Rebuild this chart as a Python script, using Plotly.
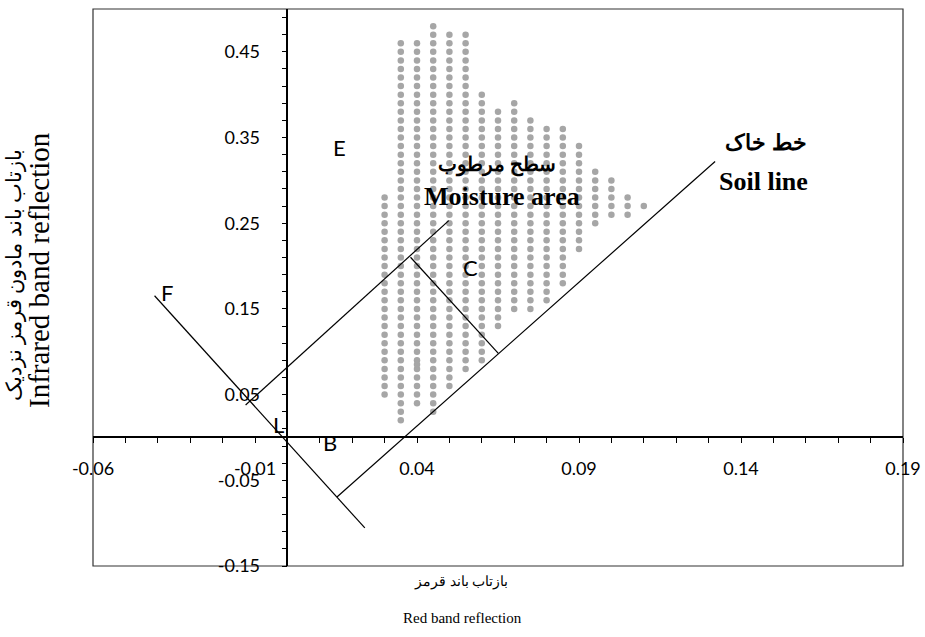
import plotly.graph_objects as go

# ---------------- data ----------------
# grid of sampled pixels: column x positions, top and bottom y of each column (step 0.01)
col_x = [0.030, 0.035, 0.040, 0.045, 0.050, 0.055, 0.060, 0.065, 0.070,
         0.075, 0.080, 0.085, 0.090, 0.095, 0.100, 0.105, 0.110]
col_top = [0.28, 0.46, 0.46, 0.48, 0.47, 0.47, 0.40, 0.38, 0.39,
           0.37, 0.36, 0.36, 0.34, 0.31, 0.30, 0.28, 0.27]
col_bottom = [0.05, 0.02, 0.04, 0.03, 0.06, 0.08, 0.09, 0.13, 0.15,
              0.15, 0.16, 0.18, 0.22, 0.25, 0.26, 0.26, 0.27]
extra_x = [0.040]
extra_y = [0.085]

# lines (x pairs, y pairs)
line_F_x = [-0.041, 0.0239]
line_F_y = [0.1654, -0.1056]
line_soil_x = [0.0153, 0.132]
line_soil_y = [-0.0694, 0.322]
line_wet_x = [-0.0129, 0.0498]
line_wet_y = [0.0379, 0.253]
line_C_x = [0.038, 0.0651]
line_C_y = [0.2103, 0.0981]

# letters
letter_text = ["E", "C", "F", "L", "B"]
letter_x = [0.0162, 0.0566, -0.0373, -0.0027, 0.0131]
letter_y = [0.338, 0.198, 0.1686, 0.0155, -0.0055]

# ticks
x_tick_vals = [-0.06, -0.01, 0.04, 0.09, 0.14, 0.19]
x_tick_text = ["-0.06", "-0.01", "0.04", "0.09", "0.14", "0.19"]
y_tick_vals = [-0.15, -0.05, 0.05, 0.15, 0.25, 0.35, 0.45]
y_tick_text = ["-0.15", "-0.05", "0.05", "0.15", "0.25", "0.35", "0.45"]

x_range = [-0.06, 0.19]
y_range = [-0.15, 0.50]

# ---------------- build ----------------
px, py = [], []
for x, top, bot in zip(col_x, col_top, col_bottom):
    n = int(round((top - bot) / 0.01))
    for i in range(n + 1):
        px.append(x)
        py.append(round(bot + i * 0.01, 3))
px += extra_x
py += extra_y

fig = go.Figure()
fig.add_trace(go.Scatter(x=px, y=py, mode="markers",
                         marker=dict(color="#a6a6a6", size=6.5, line=dict(width=0)),
                         hoverinfo="skip", showlegend=False))
for lx, ly in [(line_F_x, line_F_y), (line_soil_x, line_soil_y),
               (line_wet_x, line_wet_y), (line_C_x, line_C_y)]:
    fig.add_trace(go.Scatter(x=lx, y=ly, mode="lines",
                             line=dict(color="black", width=1.2),
                             hoverinfo="skip", showlegend=False))

annos = []
for t, x, y in zip(letter_text, letter_x, letter_y):
    annos.append(dict(x=x, y=y, xref="x", yref="y", text=t, showarrow=False,
                      font=dict(family="Lato, Open Sans, sans-serif", size=22, color="black")))

serif = "Liberation Serif, Times New Roman, DejaVu Serif, serif"
annos += [
    dict(x=0.0647, y=0.318, xref="x", yref="y", text="<b>سطح مرطوب</b>", showarrow=False,
         font=dict(family=serif, size=20, color="black")),
    dict(x=0.0662, y=0.2807, xref="x", yref="y", text="<b>Moisture area</b>", showarrow=False,
         font=dict(family=serif, size=26, color="black")),
    dict(x=0.1477, y=0.344, xref="x", yref="y", text="<b>خط خاک</b>", showarrow=False,
         font=dict(family=serif, size=22, color="black")),
    dict(x=0.1468, y=0.2986, xref="x", yref="y", text="<b>Soil line</b>", showarrow=False,
         font=dict(family=serif, size=26, color="black")),
    # axis titles (positions given in window pixels)
    dict(x=461, y=582, xref="paper", yref="paper", text="بازتاب باند قرمز", showarrow=False,
         font=dict(family=serif, size=14, color="black")),
    dict(x=462, y=618, xref="paper", yref="paper", text="Red band reflection", showarrow=False,
         font=dict(family=serif, size=15, color="black")),
    dict(x=14, y=275, xref="paper", yref="paper", text="بازتاب باند مادون قرمز نزدیک", showarrow=False,
         textangle=-90, font=dict(family=serif, size=21, color="black")),
    dict(x=39, y=270, xref="paper", yref="paper", text="Infrared band reflection", showarrow=False,
         textangle=-90, font=dict(family=serif, size=29, color="black")),
]

L, R, T, B = 93, 22, 9, 71
W, H = 925, 637
pw, ph = W - L - R, H - T - B
for a in annos:
    a["xanchor"] = "center"
    a["yanchor"] = "middle"
    if a["xref"] == "paper":
        a["x"] = (a["x"] - L) / pw
        a["y"] = (H - B - a["y"]) / ph

tickfont = dict(family="Lato, Open Sans, sans-serif", size=18, color="black")
fig.update_layout(
    width=W, height=H,
    margin=dict(l=L, r=R, t=T, b=B, autoexpand=False),
    plot_bgcolor="white", paper_bgcolor="white",
    annotations=annos,
    xaxis=dict(range=x_range, tickvals=x_tick_vals, ticktext=x_tick_text,
               showgrid=False, zeroline=False, showline=True, linecolor="black", linewidth=1.5,
               ticks="outside", ticklen=5, tickwidth=1.3, tickcolor="black",
               minor=dict(tick0=-0.06, dtick=0.01, ticks="outside", ticklen=5,
                          tickwidth=1.3, tickcolor="black", showgrid=False),
               anchor="free", position=(0 - y_range[0]) / (y_range[1] - y_range[0]),
               tickfont=tickfont, ticklabelstandoff=10, fixedrange=True),
    yaxis=dict(range=y_range, tickvals=y_tick_vals, ticktext=y_tick_text,
               showgrid=False, zeroline=False, showline=True, linecolor="black", linewidth=1.5,
               ticks="outside", ticklen=5, tickwidth=1.3, tickcolor="black",
               minor=dict(tick0=-0.15, dtick=0.02, ticks="outside", ticklen=5,
                          tickwidth=1.3, tickcolor="black", showgrid=False),
               anchor="free", position=(0 - x_range[0]) / (x_range[1] - x_range[0]),
               tickfont=tickfont, ticklabelstandoff=18, fixedrange=True),
    shapes=[dict(type="rect", xref="paper", yref="paper", x0=0, y0=0, x1=1, y1=1,
                 line=dict(color="#333333", width=1.2), layer="below")],
)

fig.write_html("out.html", config={"displayModeBar": False},
               post_script="document.body.style.margin='0';document.body.style.overflow='hidden';")
